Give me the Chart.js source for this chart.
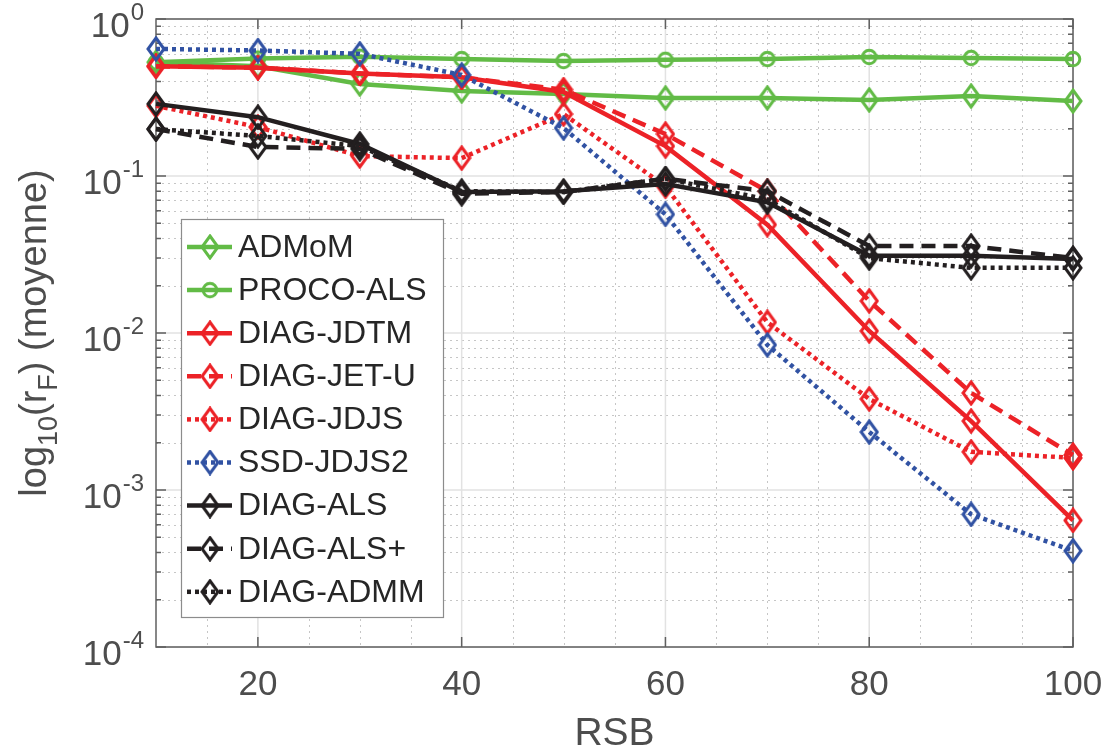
<!DOCTYPE html>
<html lang="fr">
<head>
    <meta charset="UTF-8">
    <title>log10(rF) (moyenne) vs RSB</title>
    <script src="https://cdn.jsdelivr.net/npm/chart.js@4.4.0/dist/chart.umd.min.js"></script>
    <style>
        html, body { margin: 0; padding: 0; background: #fff; }
        #wrap { position: relative; width: 1107px; height: 756px; }
    </style>
</head>
<body>
<div id="wrap"><canvas id="chart"></canvas></div>
<script>
    // data
    const rsb = [10, 20, 30, 40, 50, 60, 70, 80, 90, 100];
    const admom = [0.53, 0.50, 0.385, 0.348, 0.333, 0.314, 0.314, 0.305, 0.323, 0.30];
    const procoAls = [0.53, 0.56, 0.575, 0.556, 0.54, 0.55, 0.556, 0.573, 0.565, 0.556];
    const diagJdtm = [0.50, 0.49, 0.45, 0.425, 0.343, 0.155, 0.049, 0.0103, 0.00275, 0.00064];
    const diagJetU = [0.50, 0.49, 0.45, 0.425, 0.355, 0.185, 0.080, 0.016, 0.00415, 0.00167];
    const diagJdjs = [0.28, 0.205, 0.134, 0.13, 0.248, 0.086, 0.0117, 0.0038, 0.00175, 0.0016];
    const ssdJdjs2 = [0.645, 0.63, 0.60, 0.44, 0.202, 0.057, 0.0084, 0.00234, 0.0007, 0.00041];
    const diagAls = [0.288, 0.237, 0.16, 0.079, 0.080, 0.089, 0.068, 0.031, 0.031, 0.0296];
    const diagAlsPlus = [0.199, 0.153, 0.149, 0.077, 0.079, 0.096, 0.080, 0.0358, 0.0358, 0.030];
    const diagAdmm = [0.199, 0.18, 0.155, 0.08, 0.079, 0.096, 0.071, 0.030, 0.026, 0.026];

    const seriesNames = ['ADMoM', 'PROCO-ALS', 'DIAG-JDTM', 'DIAG-JET-U', 'DIAG-JDJS',
        'SSD-JDJS2', 'DIAG-ALS', 'DIAG-ALS+', 'DIAG-ADMM'];
    const xTickValues = [20, 40, 60, 80, 100];
    const yTickExponents = [0, -1, -2, -3, -4];

    const FONT = '"Liberation Sans", Arial, Helvetica, sans-serif';
    const GREEN = '#62bb46', RED = '#ec2227', BLUE = '#3152a3', BLACK = '#231f20';
    const SOLID = [], DASH = [14, 8], DOT = [4, 4];

    // MATLAB-like open markers as small canvases
    function diamond(color) {
        const c = document.createElement('canvas');
        c.width = 20; c.height = 26;
        const g = c.getContext('2d');
        g.strokeStyle = color; g.lineWidth = 3; g.lineJoin = 'miter';
        g.beginPath();
        g.moveTo(10, 2); g.lineTo(18, 13); g.lineTo(10, 24); g.lineTo(2, 13); g.closePath();
        g.stroke();
        return c;
    }
    function ring(color) {
        const c = document.createElement('canvas');
        c.width = 20; c.height = 20;
        const g = c.getContext('2d');
        g.strokeStyle = color; g.lineWidth = 3;
        g.beginPath(); g.arc(10, 10, 6.8, 0, Math.PI * 2); g.stroke();
        return c;
    }

    const styles = [
        {color: GREEN, dash: SOLID, marker: diamond(GREEN)},
        {color: GREEN, dash: SOLID, marker: ring(GREEN)},
        {color: RED, dash: SOLID, marker: diamond(RED)},
        {color: RED, dash: DASH, marker: diamond(RED)},
        {color: RED, dash: DOT, marker: diamond(RED)},
        {color: BLUE, dash: DOT, marker: diamond(BLUE)},
        {color: BLACK, dash: SOLID, marker: diamond(BLACK)},
        {color: BLACK, dash: DASH, marker: diamond(BLACK)},
        {color: BLACK, dash: DOT, marker: diamond(BLACK)}
    ];
    const seriesValues = [admom, procoAls, diagJdtm, diagJetU, diagJdjs, ssdJdjs2, diagAls, diagAlsPlus, diagAdmm];

    const datasets = seriesValues.map((vals, i) => ({
        label: seriesNames[i],
        data: vals.map((v, k) => ({x: rsb[k], y: v})),
        borderColor: styles[i].color,
        backgroundColor: 'transparent',
        borderWidth: 4.5,
        borderDash: styles[i].dash,
        pointStyle: styles[i].marker,
        pointRadius: 9,
        pointHoverRadius: 9,
        tension: 0,
        clip: false,
        order: -i
    }));

    // grid, box, ticks, y labels, y title and legend drawn MATLAB style
    const matlabAxes = {
        id: 'matlabAxes',
        beforeDatasetsDraw(chart) {
            const {ctx, chartArea: a, scales: {x, y}} = chart;
            ctx.save();
            // minor grid (dotted)
            ctx.strokeStyle = '#c6c6c6';
            ctx.lineWidth = 1;
            ctx.setLineDash([2, 4]);
            ctx.beginPath();
            for (let v = 15; v < 100; v += 5) {
                if (xTickValues.includes(v)) continue;
                const px = Math.round(x.getPixelForValue(v)) + 0.5;
                ctx.moveTo(px, a.top); ctx.lineTo(px, a.bottom);
            }
            for (let e = -4; e < 0; e++) {
                for (let m = 2; m <= 9; m++) {
                    const py = Math.round(y.getPixelForValue(m * Math.pow(10, e))) + 0.5;
                    ctx.moveTo(a.left, py); ctx.lineTo(a.right, py);
                }
            }
            ctx.stroke();
            // major grid (solid)
            ctx.setLineDash([]);
            ctx.strokeStyle = '#e2e2e2';
            ctx.lineWidth = 1.5;
            ctx.beginPath();
            xTickValues.forEach(v => {
                const px = x.getPixelForValue(v);
                ctx.moveTo(px, a.top); ctx.lineTo(px, a.bottom);
            });
            yTickExponents.forEach(e => {
                const py = y.getPixelForValue(Math.pow(10, e));
                ctx.moveTo(a.left, py); ctx.lineTo(a.right, py);
            });
            ctx.stroke();
            // box
            ctx.strokeStyle = '#606060';
            ctx.lineWidth = 1.5;
            ctx.strokeRect(a.left, a.top, a.right - a.left, a.bottom - a.top);
            // ticks (inward)
            ctx.beginPath();
            xTickValues.forEach(v => {
                const px = x.getPixelForValue(v);
                ctx.moveTo(px, a.bottom); ctx.lineTo(px, a.bottom - 10);
                ctx.moveTo(px, a.top); ctx.lineTo(px, a.top + 10);
            });
            yTickExponents.forEach(e => {
                const py = y.getPixelForValue(Math.pow(10, e));
                ctx.moveTo(a.left, py); ctx.lineTo(a.left + 10, py);
                ctx.moveTo(a.right, py); ctx.lineTo(a.right - 10, py);
            });
            for (let e = -4; e < 0; e++) {
                for (let m = 2; m <= 9; m++) {
                    const py = y.getPixelForValue(m * Math.pow(10, e));
                    ctx.moveTo(a.left, py); ctx.lineTo(a.left + 5, py);
                    ctx.moveTo(a.right, py); ctx.lineTo(a.right - 5, py);
                }
            }
            ctx.stroke();
            ctx.restore();
        },
        afterDraw(chart) {
            const {ctx, chartArea: a, scales: {y}} = chart;
            ctx.save();
            // y tick labels 10^k
            ctx.fillStyle = '#4d4d4d';
            ctx.textBaseline = 'alphabetic';
            yTickExponents.forEach(e => {
                const py = y.getPixelForValue(Math.pow(10, e));
                ctx.font = '24px ' + FONT;
                ctx.textAlign = 'right';
                const expX = a.left - 12;
                ctx.fillText(String(e), expX, py + 1);
                const ew = ctx.measureText(String(e)).width;
                ctx.font = '35px ' + FONT;
                ctx.fillText('10', expX - ew - 1, py + 18);
            });

            // y axis title with subscripts
            const parts = [
                {t: 'log', sub: false}, {t: '10', sub: true}, {t: '(r', sub: false},
                {t: 'F', sub: true}, {t: ') (moyenne)', sub: false}
            ];
            const fontFor = p => (p.sub ? '27px ' : '38px ') + FONT;
            let total = 0;
            parts.forEach(p => { ctx.font = fontFor(p); total += ctx.measureText(p.t).width; });
            ctx.translate(46, (a.top + a.bottom) / 2);
            ctx.rotate(-Math.PI / 2);
            ctx.textAlign = 'left';
            let cx = -total / 2;
            parts.forEach(p => {
                ctx.font = fontFor(p);
                ctx.fillText(p.t, cx, p.sub ? 11 : 0);
                cx += ctx.measureText(p.t).width;
            });
            ctx.setTransform(1, 0, 0, 1, 0, 0);

            // legend
            const lx = 181, ly = 219, lw = 262, lh = 398;
            ctx.fillStyle = '#ffffff';
            ctx.fillRect(lx, ly, lw, lh);
            ctx.strokeStyle = '#8c8c8c';
            ctx.lineWidth = 1.2;
            ctx.strokeRect(lx + 0.5, ly + 0.5, lw, lh);
            seriesNames.forEach((name, i) => {
                const cy = ly + 28 + i * 43.1;
                const st = styles[i];
                ctx.strokeStyle = st.color;
                ctx.lineWidth = 4.5;
                ctx.setLineDash(st.dash);
                ctx.beginPath();
                ctx.moveTo(187, cy); ctx.lineTo(232, cy);
                ctx.stroke();
                ctx.setLineDash([]);
                ctx.drawImage(st.marker, 210 - st.marker.width / 2, cy - st.marker.height / 2);
                ctx.fillStyle = '#262626';
                ctx.font = '32px ' + FONT;
                ctx.textAlign = 'left';
                ctx.textBaseline = 'middle';
                ctx.fillText(name, 238, cy + 1);
            });
            ctx.restore();
        }
    };

    new Chart(document.getElementById('chart'), {
        type: 'line',
        data: {datasets: datasets},
        plugins: [matlabAxes],
        options: {
            responsive: true,
            maintainAspectRatio: false,
            animation: false,
            events: [],
            layout: {padding: {left: 156, top: 19, right: 34, bottom: 0}},
            plugins: {legend: {display: false}, tooltip: {enabled: false}},
            scales: {
                x: {
                    type: 'linear',
                    min: 10,
                    max: 100,
                    afterBuildTicks: s => { s.ticks = xTickValues.map(v => ({value: v})); },
                    afterFit: s => { s.height = 109; s.paddingLeft = 0; s.paddingRight = 0; },
                    grid: {display: false, drawTicks: false},
                    border: {display: false},
                    ticks: {
                        font: {family: FONT, size: 35},
                        color: '#4d4d4d',
                        padding: 17,
                        maxRotation: 0,
                        autoSkip: false
                    },
                    title: {
                        display: true,
                        text: 'RSB',
                        font: {family: FONT, size: 39, lineHeight: 1.1},
                        color: '#4d4d4d',
                        padding: {top: 0, bottom: 0}
                    }
                },
                y: {
                    type: 'logarithmic',
                    min: 1e-4,
                    max: 1,
                    display: false
                }
            }
        }
    });
</script>
</body>
</html>
